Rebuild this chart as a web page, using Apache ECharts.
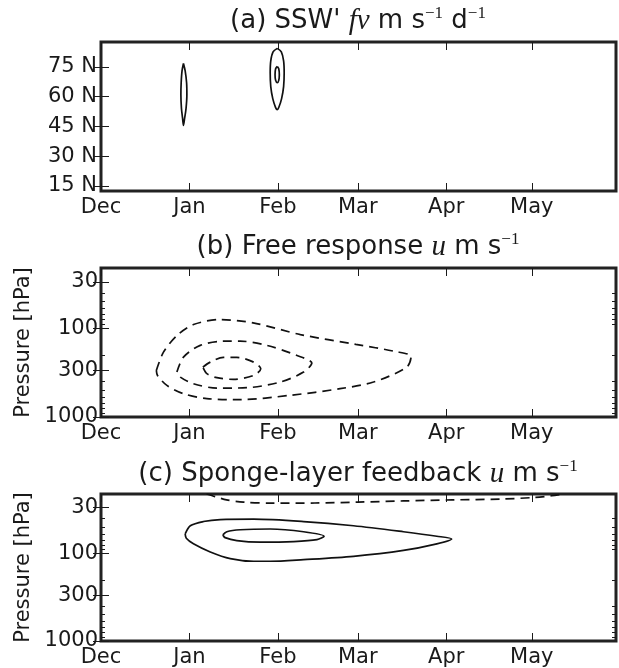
<html>
<head>
<meta charset="utf-8">
<script src="https://cdn.jsdelivr.net/npm/echarts@6/dist/echarts.min.js"></script>
<style>
  html, body { margin: 0; padding: 0; background: #fff; }
  #main { width: 619px; height: 668px; }
</style>
</head>
<body>
<div id="main"></div>
<script>
// x axis: days since 1 Dec
var monthDays = [0, 31, 62, 90, 121, 151];
var monthNames = ['Dec', 'Jan', 'Feb', 'Mar', 'Apr', 'May'];
var latTicks = [15, 30, 45, 60, 75];
var presTicks = [30, 100, 300, 1000];
var presMinor = [40, 50, 60, 70, 80, 90, 200, 400, 500, 600, 700, 800, 900];

// (a) fv contours, [day, latitude]
var fvJan = [[28.9, 76.7], [29.5, 73], [30.0, 67], [30.1, 61], [29.8, 54], [29.3, 49], [28.9, 45.5],
  [28.6, 49], [28.2, 54], [28.0, 61], [28.1, 67], [28.4, 73], [28.9, 76.7]];
var fvFebOuter = [[61.8, 84.3], [63.2, 82.5], [64.0, 78], [64.2, 72], [64.0, 65], [63.3, 59], [62.3, 54.5],
  [61.8, 53.5], [61.2, 54.5], [60.2, 59], [59.5, 65], [59.3, 72], [59.5, 78], [60.3, 82.5], [61.8, 84.3]];
var fvFebInner = [[61.8, 75.2], [62.3, 74], [62.5, 71], [62.3, 68.2], [61.8, 67], [61.2, 68.2],
  [61.0, 71], [61.2, 74], [61.8, 75.2]];

// (b) free response u, [day, hPa]
var freeOuter = [[19.4, 299], [21.9, 186], [26.6, 121], [32.4, 91], [41.6, 80], [53.3, 87], [69.9, 118],
  [89.3, 152], [103.1, 183], [108.7, 208], [107.2, 274], [95.5, 404], [83.8, 480], [66.3, 570],
  [48.8, 637], [37.1, 621], [28.9, 546], [23.1, 441], [19.8, 340], [19.4, 299]];
var freeMiddle = [[26.6, 312], [28.9, 212], [34.8, 156], [42.9, 140], [48.8, 140], [58.1, 156], [68.7, 203],
  [73.9, 247], [71.0, 312], [62.8, 404], [51.1, 468], [40.6, 473], [32.4, 422], [27.8, 356], [26.6, 312]];
var freeInner = [[35.7, 274], [38.3, 241], [42.9, 213], [47.6, 213], [53.5, 241], [56.0, 286], [53.5, 340],
  [46.4, 377], [40.6, 361], [37.1, 325], [35.7, 274]];

// (c) sponge-layer feedback u, [day, hPa]
var spongeOuter = [[29.5, 60], [31.3, 48.4], [35.9, 43.3], [41.8, 41.1], [53.5, 40.7], [71.0, 43.3],
  [88.5, 48.4], [106.0, 56.6], [117.7, 63.7], [122.9, 68.4], [117.7, 77.8], [106.0, 92.5], [88.5, 108],
  [71.0, 117.8], [59.3, 123], [53.5, 123], [45.3, 114.7], [38.3, 96.4], [32.4, 77.8], [29.9, 67.2], [29.5, 60]];
var spongeInner = [[42.7, 61.6], [44.1, 56.6], [48.8, 53.7], [59.3, 52.7], [71.0, 56.6], [78.2, 63.7],
  [75.7, 69.7], [67.5, 73.3], [55.8, 74.4], [47.6, 71.5], [43.5, 66.1], [42.7, 61.6]];
var spongeTop = [[37, 21], [40, 22.5], [44, 24.5], [50, 26], [60, 26.7], [75, 26.6], [90, 26], [106, 25.2],
  [123, 24.5], [140, 24], [152, 23], [158, 22], [162, 21]];

var myChart = echarts.init(document.getElementById('main'));

var ink = '#1a1a1a';
var sans = 'DejaVu Sans';
var grids = [
  { left: 101, right: 3, top: 42, height: 149 },
  { left: 101, right: 3, top: 268, height: 149 },
  { left: 101, right: 3, top: 494, height: 148 }
];

function xAxes(g) {
  var base = {
    type: 'value', gridIndex: g, min: 0, max: 180.5,
    axisLine: { show: false }, splitLine: { show: false }
  };
  return [
    Object.assign({}, base, {
      position: 'bottom',
      axisTick: { inside: true, length: 8, customValues: monthDays, lineStyle: { color: ink, width: 1 } },
      axisLabel: {
        customValues: monthDays, margin: 6, color: ink, fontFamily: sans, fontSize: 21,
        formatter: function (v) { return monthNames[monthDays.indexOf(v)]; }
      }
    }),
    Object.assign({}, base, {
      position: 'top',
      axisTick: { inside: true, length: 8, customValues: monthDays, lineStyle: { color: ink, width: 1 } },
      axisLabel: { show: false }
    })
  ];
}

function presAxes(g) {
  var base = {
    type: 'log', logBase: 10, gridIndex: g, min: 21, max: 1000, inverse: true,
    axisLine: { show: false }, splitLine: { show: false }, minorTick: { show: false }
  };
  var major = { inside: true, length: 8, customValues: presTicks, lineStyle: { color: ink, width: 1 } };
  var minor = { inside: true, length: 4, customValues: presMinor, lineStyle: { color: ink, width: 1 } };
  return [
    Object.assign({}, base, {
      position: 'left', axisTick: major,
      name: 'Pressure [hPa]', nameLocation: 'middle', nameGap: 66,
      nameTextStyle: { color: ink, fontFamily: sans, fontSize: 21 },
      axisLabel: { customValues: presTicks, margin: 3, color: ink, fontFamily: sans, fontSize: 21,
        formatter: function (v) { return String(Math.round(v)); } }
    }),
    Object.assign({}, base, { position: 'right', axisTick: major, axisLabel: { show: false } }),
    Object.assign({}, base, { position: 'left', axisTick: minor, axisLabel: { show: false } }),
    Object.assign({}, base, { position: 'right', axisTick: minor, axisLabel: { show: false } })
  ];
}

var latBase = {
  type: 'value', gridIndex: 0, min: 12.5, max: 87.5,
  axisLine: { show: false }, splitLine: { show: false }
};
var latMajor = { inside: true, length: 8, customValues: latTicks, lineStyle: { color: ink, width: 1 } };

function contour(data, xi, yi, dashed) {
  return {
    type: 'line', data: data, xAxisIndex: xi, yAxisIndex: yi,
    showSymbol: false, smooth: 0.3, silent: true,
    lineStyle: { color: '#111', width: 1.7, type: dashed ? [9, 6] : 'solid' }
  };
}

var titleRich = {
  i: { fontFamily: 'Liberation Serif', fontStyle: 'italic', fontSize: 29, lineHeight: 32, color: ink },
  s: { fontFamily: 'Liberation Serif', fontSize: 17, lineHeight: 17, verticalAlign: 'top', color: ink }
};
function mkTitle(text, top) {
  return {
    text: text, left: 358, top: top, textAlign: 'center', padding: 0,
    textStyle: { fontFamily: sans, fontSize: 26, fontWeight: 'normal', color: ink, lineHeight: 32, rich: titleRich }
  };
}

var option = {
  animation: false,
  backgroundColor: '#fff',
  title: [
    mkTitle("(a) SSW' {i|fv} m s{s|\u22121} d{s|\u22121}", 5),
    mkTitle('(b) Free response {i|u} m s{s|\u22121}', 231),
    mkTitle('(c) Sponge-layer feedback {i|u} m s{s|\u22121}', 458)
  ],
  grid: grids.map(function (g) {
    return Object.assign({ show: true, borderColor: '#222', borderWidth: 3, backgroundColor: 'transparent' }, g);
  }),
  xAxis: [].concat(xAxes(0), xAxes(1), xAxes(2)),
  yAxis: [
    Object.assign({}, latBase, {
      position: 'left', axisTick: latMajor,
      axisLabel: { customValues: latTicks, margin: 4, color: ink, fontFamily: sans, fontSize: 21,
        formatter: function (v) { return v + ' N'; } }
    }),
    Object.assign({}, latBase, { position: 'right', axisTick: latMajor, axisLabel: { show: false } })
  ].concat(presAxes(1), presAxes(2)),
  series: [
    contour(fvJan, 0, 0, false),
    contour(fvFebOuter, 0, 0, false),
    contour(fvFebInner, 0, 0, false),
    contour(freeOuter, 2, 2, true),
    contour(freeMiddle, 2, 2, true),
    contour(freeInner, 2, 2, true),
    contour(spongeOuter, 4, 6, false),
    contour(spongeInner, 4, 6, false),
    contour(spongeTop, 4, 6, true)
  ]
};

myChart.setOption(option);
</script>
</body>
</html>
